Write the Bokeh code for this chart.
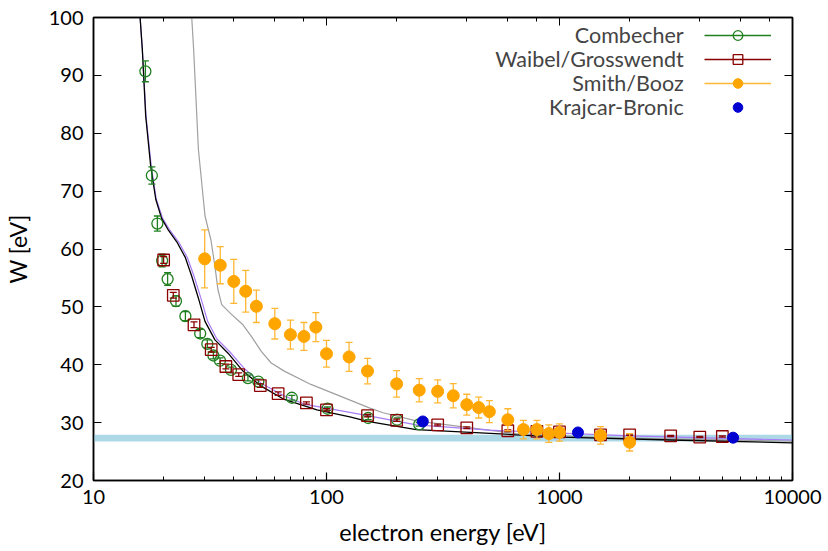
from bokeh.plotting import figure
from bokeh.models import (Legend, LegendItem, LinearAxis, LogAxis, BoxAnnotation,
                          Label, PrintfTickFormatter, FixedTicker, CustomJSTickFormatter)
from bokeh.embed import file_html
from bokeh.resources import INLINE

FONT = "Lato"

# ---- data ----
comb_E = [16.7, 17.8, 18.8, 19.7, 20.8, 22.6, 24.8, 28.7, 30.8, 32.7, 34.9, 38.9, 46, 51, 71, 101, 151, 201, 250]
comb_W = [90.7, 72.7, 64.4, 58.0, 54.8, 51.0, 48.4, 45.4, 43.6, 41.6, 40.7, 39.1, 37.7, 37.1, 34.3, 32.4, 30.8, 30.5, 29.7]
comb_err = [1.8, 1.5, 1.3, 1.1, 1.1, 0.9, 0.8, 0.7, 0.7, 0.6, 0.5, 0.5, 0.5, 0.4, 0.4, 0.3, 0.3, 0.3, 0.3]

wg_E = [20, 22, 27, 32, 37, 42, 52, 62, 82, 100, 150, 200, 300, 400, 600, 800, 1000, 1500, 2000, 3000, 4000, 5000]
wg_W = [58.1, 52.0, 46.9, 42.6, 39.7, 38.3, 36.4, 35.0, 33.4, 32.2, 31.2, 30.4, 29.6, 29.1, 28.6, 28.5, 28.4, 27.9, 27.9, 27.7, 27.5, 27.6]
wg_err = [0.6, 0.5, 0.5, 0.4, 0.4, 0.3, 0.3, 0.3, 0.2, 0.2, 0.2, 0.2, 0.15, 0.15, 0.15, 0.15, 0.15, 0.1, 0.1, 0.1, 0.1, 0.1]

sb_E = [30, 35, 40, 45, 50, 60, 70, 80, 90, 100, 125, 150, 200, 250, 300, 350, 400, 450, 500, 600, 700, 800, 900, 1000, 1500, 2000]
sb_W = [58.3, 57.2, 54.4, 52.7, 50.1, 47.1, 45.2, 44.9, 46.5, 41.9, 41.35, 38.9, 36.7, 35.6, 35.4, 34.65, 33.1, 32.6, 31.9, 30.5, 28.8, 28.8, 28.1, 28.3, 27.8, 26.6]
sb_err = [5.0, 3.2, 3.8, 3.6, 2.8, 2.65, 2.5, 2.4, 2.5, 2.3, 2.5, 2.2, 2.3, 2.0, 2.0, 2.1, 1.8, 1.8, 1.9, 1.9, 1.6, 1.6, 1.5, 1.5, 1.5, 1.5]

kb_E = [259, 1200, 5560]
kb_W = [30.2, 28.3, 27.4]

black_E = [15.85, 16.2, 16.75, 17.6, 18.5, 19.6, 21.0, 22.8, 24.8, 26.4, 28.2, 30.1, 33.2, 37.8, 43.8, 52.4, 65.9, 91, 126, 150, 243, 650, 1016, 3000, 10000]
black_W = [100, 94.5, 83, 74.3, 68.6, 65.3, 63.2, 61.2, 58.5, 55.3, 51.5, 47.5, 44.3, 42.0, 38.9, 36.3, 34.0, 32.2, 31.0, 30.2, 28.8, 27.9, 27.5, 27.0, 26.5]

purple_E = [15.85, 16.2, 16.8, 17.7, 18.6, 19.8, 21.3, 23.2, 25.3, 27.0, 28.9, 30.9, 33.8, 38.5, 44.5, 52.4, 65.9, 82, 100, 150, 243, 500, 840, 2000, 10000]
purple_W = [100, 94.5, 83, 74.3, 68.6, 65.3, 63.2, 61.2, 58.5, 55.3, 51.5, 47.5, 44.5, 42.2, 39.3, 36.8, 34.6, 33.1, 32.5, 31.2, 29.6, 28.7, 28.3, 27.7, 27.0]

gray_E = [26.4, 26.9, 28.2, 30.1, 31.9, 33.2, 34.2, 35.5, 39.1, 43.8, 47.6, 52.5, 57.9, 65.9, 85.7, 111, 153.6, 175, 243, 650, 1500, 10000]
gray_W = [100, 94.5, 77.2, 65.7, 61.6, 57.0, 53.0, 50.4, 48.7, 46.9, 44.9, 42.3, 40.3, 38.9, 36.6, 34.8, 32.5, 31.7, 30.3, 28.1, 27.4, 26.8]

W_MEAN = 27.33
W_BAND = 0.57

y_ticks = [20, 30, 40, 50, 60, 70, 80, 90, 100]
legend_labels = ["Combecher", "Waibel/Grosswendt", "Smith/Booz", "Krajcar-Bronic"]

C_GREEN = "#1f7f1f"
C_RED = "#8b0000"
C_ORANGE = "#ffa500"
C_ORANGE_BAR = "#ffb733"
C_BLUE = "#0000d0"
C_PURPLE = "#a97cf8"
C_GRAY = "#a0a0a0"

p = figure(width=826, height=549, x_axis_type="log", x_range=(10, 10000), y_range=(20, 100),
           output_backend="svg", toolbar_location=None,
           min_border_left=86, min_border_right=34, min_border_top=17, min_border_bottom=69)
p.xgrid.visible = False
p.ygrid.visible = False
p.outline_line_color = "black"
p.outline_line_width = 1.5
p.background_fill_color = "white"
p.border_fill_color = "white"

# band
p.add_layout(BoxAnnotation(bottom=W_MEAN - W_BAND, top=W_MEAN + W_BAND,
                           fill_color="#add8e6", fill_alpha=1.0, line_color=None, level="underlay"))

# curves
p.line(gray_E, gray_W, line_color=C_GRAY, line_width=1.2)
p.line(purple_E, purple_W, line_color=C_PURPLE, line_width=1.2)
p.line(black_E, black_W, line_color="black", line_width=1.3)


def errbars(E, W, err, color, cap):
    lo = [w - e for w, e in zip(W, err)]
    hi = [w + e for w, e in zip(W, err)]
    seg = p.segment(x0=E, y0=lo, x1=E, y1=hi, line_color=color, line_width=1.3)
    p.scatter(x=E + E, y=lo + hi, marker="dash", size=cap, line_color=color, line_width=1.3)
    return seg


seg_g = errbars(comb_E, comb_W, comb_err, C_GREEN, 7)
sc_g = p.scatter(comb_E, comb_W, marker="circle", size=11, fill_color=None, line_color=C_GREEN, line_width=1.3)

seg_r = errbars(wg_E, wg_W, wg_err, C_RED, 7)
sc_r = p.scatter(wg_E, wg_W, marker="square", size=11.5, fill_color=None, line_color=C_RED, line_width=1.3)

seg_o = errbars(sb_E, sb_W, sb_err, C_ORANGE_BAR, 7)
sc_o = p.scatter(sb_E, sb_W, marker="circle", size=12, fill_color=C_ORANGE, line_color=C_ORANGE)

sc_b = p.scatter(kb_E, kb_W, marker="circle", size=11, fill_color=C_BLUE, line_color=C_BLUE)

# axes styling
for ax in [p.xaxis[0], p.yaxis[0]]:
    ax.axis_line_width = 1.5
    ax.major_tick_in = 8
    ax.major_tick_out = 0
    ax.minor_tick_out = 0
    ax.major_label_text_font = FONT
    ax.major_label_text_font_size = "20px"
    ax.major_label_text_color = "black"
    ax.major_tick_line_width = 1.2
    ax.minor_tick_line_width = 1.0
    ax.axis_label_text_font = FONT
    ax.axis_label_text_font_style = "normal"
    ax.axis_label_text_color = "black"

p.xaxis[0].minor_tick_in = 4
p.xaxis[0].ticker.desired_num_ticks = 4
p.xaxis[0].formatter = PrintfTickFormatter(format="%d")
p.xaxis[0].major_label_standoff = 9
p.xaxis[0].axis_label = "electron energy [eV]"
p.xaxis[0].axis_label_text_font_size = "23.5px"
p.xaxis[0].axis_label_text_line_height = 0.9
p.xaxis[0].axis_label_standoff = 11

p.yaxis[0].ticker = FixedTicker(ticks=y_ticks)
p.yaxis[0].minor_tick_in = 0
p.yaxis[0].major_label_standoff = 10
p.yaxis[0].axis_label = "W [eV]"
p.yaxis[0].axis_label_text_font_size = "23px"
p.yaxis[0].axis_label_standoff = 14

# mirror axes (no labels)
top = LogAxis(formatter=CustomJSTickFormatter(code="return ''"), major_tick_in=8, major_tick_out=0,
              minor_tick_in=4, minor_tick_out=0, axis_line_width=1.5, major_label_standoff=0)
top.ticker.desired_num_ticks = 4
p.add_layout(top, "above")
right = LinearAxis(formatter=CustomJSTickFormatter(code="return ''"), major_tick_in=8, major_tick_out=0,
                   minor_tick_in=0, minor_tick_out=0, axis_line_width=1.5, major_label_standoff=0,
                   ticker=FixedTicker(ticks=y_ticks))
p.add_layout(right, "right")

# legend: samples on the right (Bokeh legend), texts right-aligned to their left
legend = Legend(items=[
    LegendItem(label=" ", renderers=[seg_g, sc_g]),
    LegendItem(label=" ", renderers=[seg_r, sc_r]),
    LegendItem(label=" ", renderers=[seg_o, sc_o]),
    LegendItem(label=" ", renderers=[sc_b]),
], location=(611, 361), glyph_width=67, glyph_height=24, label_height=24, label_width=1,
    spacing=0, padding=0, margin=0, label_standoff=0,
    label_text_font_size="10px", border_line_color=None, background_fill_alpha=0)
p.add_layout(legend, "center")

legend_y = [96.94, 92.79, 88.63, 84.48]
for txt, yy in zip(legend_labels, legend_y):
    p.add_layout(Label(x=3412, y=yy, text=txt, text_font=FONT, text_font_size="21.5px",
                       text_align="right", text_baseline="middle"))

open("out.html", "w").write(file_html(p, INLINE))
